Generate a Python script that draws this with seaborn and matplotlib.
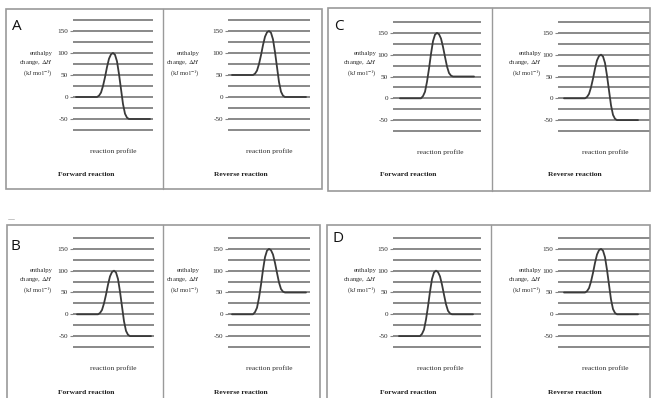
import matplotlib
matplotlib.use("Agg")
import matplotlib.pyplot as plt
import seaborn as sns
from matplotlib.patches import Rectangle
from matplotlib.lines import Line2D

# ---------------- data ----------------
panel_letters = ["A", "B", "C", "D"]
reaction_labels = ["Forward reaction", "Reverse reaction"]
x_label = "reaction profile"
y_label = "enthalpy\nchange, $\\it{\\Delta H}$\n(kJ mol$^{-1}$)"

# reaction coordinate (arbitrary units along the profile)
profile_x = [0, 21, 23, 25, 27, 29, 31, 33, 35, 37, 39, 41, 43, 45, 47, 49, 51, 53, 74]

# enthalpy (kJ/mol) read from each profile
A_forward = [0, 0, 3, 10, 25, 45, 68, 87, 97, 100, 96, 81, 52, 18, -16, -38, -47, -50, -50]
A_reverse = [50, 50, 53, 60, 75, 95, 118, 137, 147, 150, 146, 131, 102, 68, 34, 12, 3, 0, 0]
B_forward = [0, 0, 3, 10, 25, 45, 68, 87, 97, 100, 96, 81, 52, 18, -16, -38, -47, -50, -50]
B_reverse = [0, 0, 5, 15, 38, 68, 102, 131, 146, 150, 147, 137, 118, 95, 73, 58, 52, 50, 50]
C_forward = [0, 0, 5, 15, 38, 68, 102, 131, 146, 150, 147, 137, 118, 95, 73, 58, 52, 50, 50]
C_reverse = [0, 0, 3, 10, 25, 45, 68, 87, 97, 100, 96, 81, 52, 18, -16, -38, -47, -50, -50]
D_forward = [-50, -50, -45, -35, -12, 18, 52, 81, 96, 100, 97, 87, 68, 45, 23, 8, 2, 0, 0]
D_reverse = [50, 50, 53, 60, 75, 95, 118, 137, 147, 150, 146, 131, 102, 68, 34, 12, 3, 0, 0]

curves = {"A": (A_forward, A_reverse), "B": (B_forward, B_reverse),
          "C": (C_forward, C_reverse), "D": (D_forward, D_reverse)}

tick_values = [-50, 0, 50, 100, 150]
tick_labels = ["-50", "0", "50", "100", "150"]
grid_levels = [-75, -50, -25, 0, 25, 50, 75, 100, 125, 150, 175]

# ---------------- layout (pixels) ----------------
W, H = 651, 398
layout = {
    "A": dict(box=(6, 9, 322, 189), div=163, letter=(12, 26), gy=(20, 130),
              fx=(73, 153), rx=(228, 310), start=(76, 232), yl=(53, 200), ylc=65,
              rp_y=151, rp_c=(113, 269), fr_y=175, fr_c=(86, 241)),
    "C": dict(box=(328, 8, 650, 191), div=492, letter=(334, 27), gy=(22, 131),
              fx=(393, 481), rx=(558, 650), start=(400, 564), yl=(377, 542), ylc=65,
              rp_y=152, rp_c=(440, 605), fr_y=175, fr_c=(408, 575)),
    "B": dict(box=(7, 225, 320, 402), div=163, letter=(10, 246), gy=(238, 347),
              fx=(73, 154), rx=(228, 310), start=(77, 232), yl=(53, 200), ylc=282,
              rp_y=368, rp_c=(113, 269), fr_y=392, fr_c=(86, 241)),
    "D": dict(box=(327, 225, 650, 402), div=491, letter=(332, 239), gy=(238, 347),
              fx=(393, 481), rx=(558, 650), start=(399, 564), yl=(377, 542), ylc=282,
              rp_y=368, rp_c=(440, 605), fr_y=392, fr_c=(408, 575)),
}

sns.set_theme(style="white")
plt.rcParams["font.family"] = ["Liberation Serif", "DejaVu Serif"]
plt.rcParams["mathtext.fontset"] = "stix"
plt.rcParams["axes.unicode_minus"] = False

fig = plt.figure(figsize=(W / 100, H / 100), dpi=100)
fig.patch.set_facecolor("white")

GRID = "#858585"
TXT = "#2e2e2e"
CURVE = "#3a3a3a"
BOX = "#9a9a9a"


def fx(x):
    return x / W


def fy(y):
    return 1 - y / H


def make_axes(x0, x1, ytop, ybot, start_px, yvals):
    pad_units = 3.0
    ppu = (ybot - ytop) / 250.0
    pad_px = pad_units * ppu
    ax = fig.add_axes([fx(x0), fy(ybot + pad_px), (x1 - x0) / W,
                       (ybot - ytop + 2 * pad_px) / H])
    ax.set_facecolor("none")
    ax.set_ylim(-75 - pad_units, 175 + pad_units)
    ax.set_xlim(-(start_px - x0), x1 - start_px)
    sns.lineplot(x=profile_x, y=yvals, ax=ax, color=CURVE, linewidth=1.3,
                 estimator=None, sort=False, zorder=3)
    ax.set_yticks(tick_values)
    ax.set_yticklabels(tick_labels, fontsize=5.2, color=TXT)
    ax.set_yticks(grid_levels, minor=True)
    ax.grid(which="both", axis="y", color=GRID, linewidth=1.35)
    ax.grid(False, axis="x")
    ax.set_axisbelow(True)
    ax.tick_params(axis="y", which="major", length=2.5, width=0.8, color=GRID,
                   pad=1, left=True)
    ax.tick_params(axis="y", which="minor", length=0)
    ax.set_xticks([])
    ax.set_xlabel("")
    ax.set_ylabel("")
    for s in ax.spines.values():
        s.set_visible(False)
    return ax


for letter in panel_letters:
    L = layout[letter]
    fwd, rev = curves[letter]
    bx0, by0, bx1, by1 = L["box"]
    fig.add_artist(Rectangle((fx(bx0), fy(by1)), (bx1 - bx0) / W, (by1 - by0) / H,
                             transform=fig.transFigure, fill=False,
                             edgecolor=BOX, linewidth=1.2, clip_on=False))
    fig.add_artist(Line2D([fx(L["div"]), fx(L["div"])], [fy(by0), fy(by1)],
                          transform=fig.transFigure, color=BOX, linewidth=1.0))
    fig.text(fx(L["letter"][0]), fy(L["letter"][1]), letter, fontsize=11,
             family=["Open Sans", "DejaVu Sans"], color="#111111",
             ha="left", va="center")
    gxs = (L["fx"], L["rx"])
    for k, yvals in enumerate((fwd, rev)):
        x0, x1 = gxs[k]
        make_axes(x0, x1, L["gy"][0], L["gy"][1], L["start"][k], yvals)
        fig.text(fx(L["yl"][k]), fy(L["ylc"]), y_label, fontsize=4.8, color=TXT,
                 ha="right", va="center", multialignment="right", linespacing=1.3)
        fig.text(fx(L["rp_c"][k]), fy(L["rp_y"]), x_label, fontsize=5.4,
                 color=TXT, ha="center", va="center")
        fig.text(fx(L["fr_c"][k]), fy(L["fr_y"]), reaction_labels[k], fontsize=5.4,
                 fontweight="bold", color="#1e1e1e", ha="center", va="center")

# faint dash artifact left of panel B
fig.add_artist(Line2D([fx(8), fx(14)], [fy(219), fy(219)], transform=fig.transFigure,
                      color="#bbbbbb", linewidth=0.6))

fig.savefig("out.png", dpi=100, facecolor="white")
